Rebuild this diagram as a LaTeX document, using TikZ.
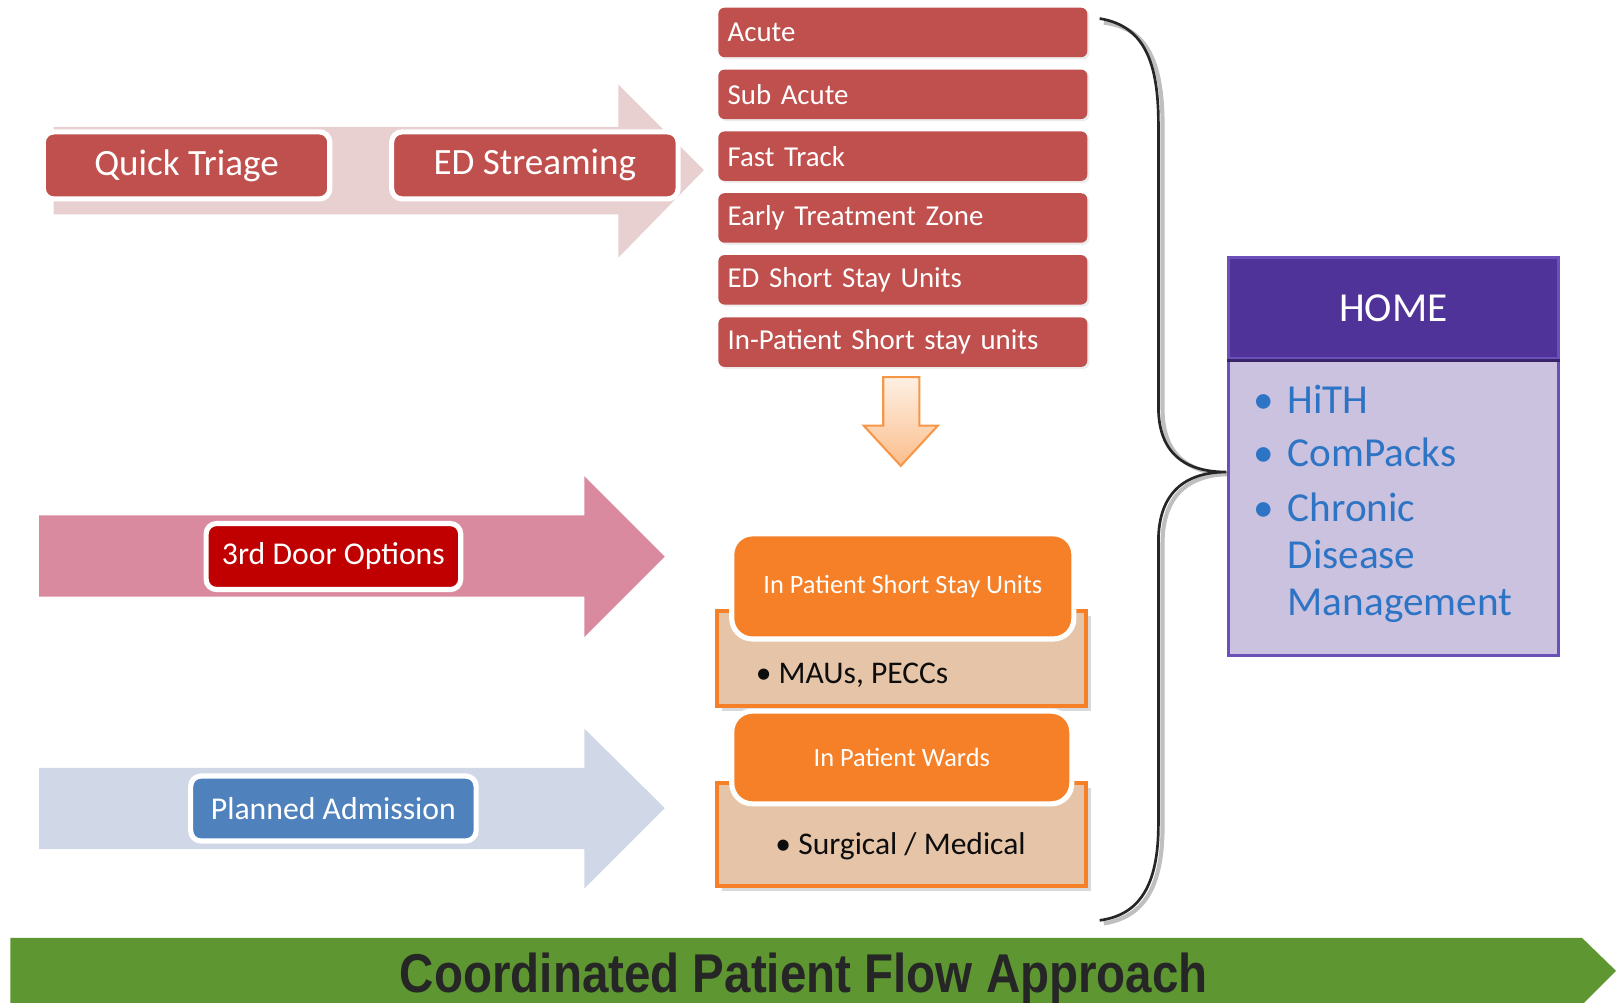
\documentclass[tikz,border=0pt]{standalone}
\usepackage{fontspec}
\usepackage{graphicx}
\setmainfont{Carlito}
\newfontfamily\bannerfont{Liberation Sans}
\usetikzlibrary{shadows}
\definecolor{redbox}{HTML}{C0504D}
\definecolor{toparrow}{HTML}{E8D0D0}
\definecolor{pinkarrow}{HTML}{DA8A9E}
\definecolor{darkred}{HTML}{C00000}
\definecolor{bluearrow}{HTML}{D0D8E8}
\definecolor{bluebox}{HTML}{4F81BD}
\definecolor{orangebox}{HTML}{F58027}
\definecolor{tanbox}{HTML}{E5C4A7}
\definecolor{downtop}{HTML}{FEF0E4}
\definecolor{downbot}{HTML}{FBBE8C}
\definecolor{downline}{HTML}{F79646}
\definecolor{homehead}{HTML}{503399}
\definecolor{homeedge}{HTML}{6A50B8}
\definecolor{homebody}{HTML}{CBC2E0}
\definecolor{homeblue}{HTML}{2E74C4}
\definecolor{bannergreen}{HTML}{5E9732}
\definecolor{bannertext}{HTML}{262626}
\begin{document}
\begin{tikzpicture}[x=0.5pt,y=-0.5pt,
  listbox/.style={fill=redbox, rounded corners=3pt, minimum width=179pt, minimum height=24pt,
    text width=170pt, align=left, inner xsep=4.5pt, inner ysep=0pt, text=white,
    font=\fontsize{14}{16}\selectfont,
    drop shadow={shadow xshift=1pt, shadow yshift=-1pt, opacity=0.15}},
  stepbox/.style={fill=#1, draw=white, line width=2.5pt, rounded corners=5pt, text=white,
    inner sep=0pt},
  tanpanel/.style={fill=tanbox, draw=orangebox, line width=2pt, minimum width=179pt,
    drop shadow={shadow xshift=2.5pt, shadow yshift=-2.5pt, opacity=0.3}},
  orangehead/.style={fill=orangebox, draw=white, line width=2.5pt, rounded corners=10pt,
    text=white, font=\fontsize{12.8}{15}\selectfont, inner sep=0pt},
  bullettext/.style={anchor=base west, inner sep=0pt, text=black!95, font=\fontsize{15.3}{18}\selectfont},
  hometext/.style={anchor=base west, inner sep=0pt, text=homeblue, font=\fontsize{20}{23}\selectfont}]
\useasboundingbox (0,0) rectangle (1568,973);

% top arrow
\fill[toparrow] (52,123) -- (600,123) -- (600,82) -- (683,165) -- (600,250) -- (600,208) -- (52,208) -- cycle;
\node[stepbox=redbox, minimum width=139pt, minimum height=32.5pt, font=\fontsize{18}{21}\selectfont]
  (triage) at (181,160.5) {Quick Triage};
\node[stepbox=redbox, minimum width=139pt, minimum height=32.5pt, font=\fontsize{18}{21}\selectfont]
  (streaming) at (519,160.5) {ED Streaming};

% red list
\node[listbox] (acute) at (876,31.5) {Acute};
\node[listbox] (subacute) at (876,91.5) {Sub Acute};
\node[listbox] (fast) at (876,151.5) {Fast Track};
\node[listbox] (early) at (876,211.5) {Early Treatment Zone};
\node[listbox] (edssu) at (876,271.5) {ED Short Stay Units};
\node[listbox] (ipssu) at (876,332) {In-Patient Short stay units};

% down arrow
\shade[top color=downtop, bottom color=downbot, draw=downline, line width=1pt]
  (857,366) -- (892,366) -- (892,413) -- (910,413) -- (874,452) -- (838,413) -- (857,413) -- cycle;

% 3rd door arrow
\fill[pinkarrow] (38,500) -- (567,500) -- (567,462) -- (645,540) -- (567,618) -- (567,579) -- (38,579) -- cycle;
\node[stepbox=darkred, minimum width=123.5pt, minimum height=32pt, font=\fontsize{15.4}{18}\selectfont]
  (door) at (323.5,540) {3rd Door Options};

% planned admission arrow
\fill[bluearrow] (38,745) -- (567,745) -- (567,707) -- (645,784) -- (567,862) -- (567,824) -- (38,824) -- cycle;
\node[stepbox=bluebox, minimum width=138.5pt, minimum height=31.5pt, font=\fontsize{15.4}{18}\selectfont]
  (planned) at (323.5,784.5) {Planned Admission};

% in patient short stay units group
\node[tanpanel, minimum height=46pt] (ssubase) at (875,639) {};
\node[orangehead, minimum width=166pt, minimum height=51pt] (ssu) at (876,569) {In Patient Short Stay Units};
\node[bullettext] (mau) at (733,663) {• MAUs, PECCs};

% in patient wards group
\node[tanpanel, minimum height=50pt] (wardbase) at (875,810) {};
\node[orangehead, minimum width=165pt, minimum height=45pt] (wards) at (875,735) {In Patient Wards};
\node[bullettext] (surg) at (752,829) {• Surgical / Medical};

% brace
\coordinate (btop) at (1067,18);
\coordinate (bbot) at (1067,893);
\coordinate (btip) at (1190,458);
\draw[black!25, line width=2pt] ([xshift=2pt,yshift=-2pt]btop) .. controls (1114,27) and (1128,62) .. (1128,122) -- (1128,397)
  .. controls (1128,442) and (1154,460) .. (1194,460);
\draw[black!25, line width=2pt] (1194,460) .. controls (1154,460) and (1128,480) .. (1128,527) -- (1128,802)
  .. controls (1128,862) and (1109,890) .. (1071,896);
\draw[black!85, line width=1.3pt] (btop) .. controls (1110,25) and (1124,60) .. (1124,120) -- (1124,395)
  .. controls (1124,440) and (1150,458) .. (btip)
  .. controls (1150,458) and (1124,478) .. (1124,525) -- (1124,800)
  .. controls (1124,860) and (1105,888) .. (bbot);

% HOME box
\node[fill=homebody, draw=homeedge, line width=1.5pt, minimum width=160pt, minimum height=144pt, inner sep=0pt]
  (homebody) at (1352,492) {};
\node[fill=homehead, draw=homeedge, line width=1.5pt, minimum width=160pt, minimum height=49pt, inner sep=0pt,
  text=white, font=\fontsize{20}{23}\selectfont] (home) at (1352,299) {HOME};
\draw[homehead!70!black, line width=1.5pt] (home.south west) -- (home.south east);
\node[hometext] (b1) at (1216,401) {•};
\node[hometext] (hith) at (1249,401) {HiTH};
\node[hometext] (b2) at (1216,453) {•};
\node[hometext] (compacks) at (1249,453) {ComPacks};
\node[hometext] (b3) at (1216,506) {•};
\node[hometext] (chronic) at (1249,506) {Chronic};
\node[hometext] (disease) at (1249,552) {Disease};
\node[hometext] (mgmt) at (1249,597) {Management};

% bottom banner
\fill[bannergreen] (10,910) -- (1535,910) -- (1568,942) -- (1535,975) -- (10,975) -- cycle;
\node[anchor=base, text=bannertext, font=\bannerfont\bfseries\fontsize{26.5}{30}\selectfont, inner sep=0pt]
  (banner) at (780,963) {\scalebox{0.87}[1]{Coordinated Patient Flow Approach}};
\end{tikzpicture}
\end{document}
